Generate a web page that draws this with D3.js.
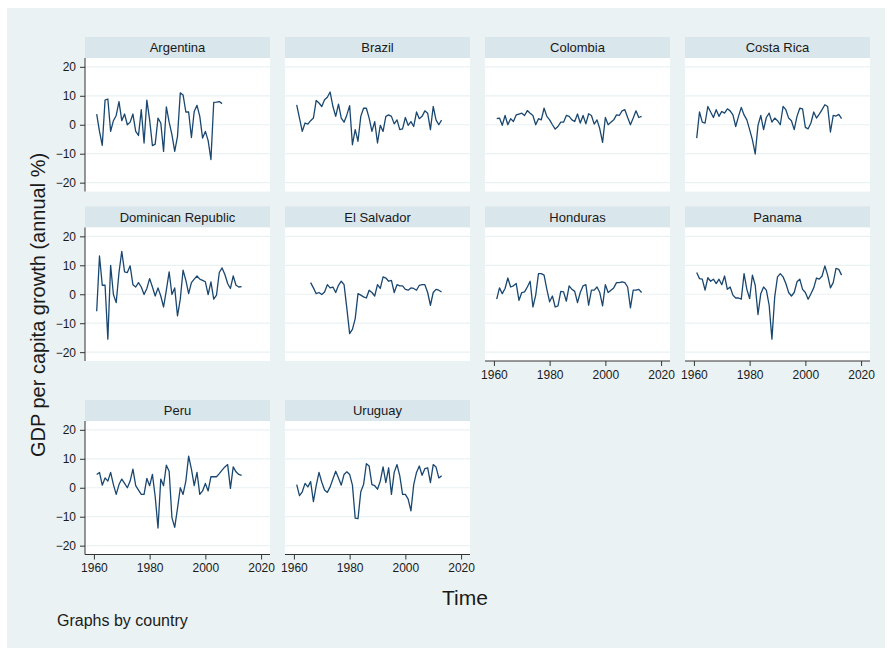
<!DOCTYPE html>
<html>
<head>
<meta charset="utf-8">
<script src="https://cdn.jsdelivr.net/npm/d3@7"></script>
<style>
  body { margin: 0; background: #fff; }
  text { font-family: "Liberation Sans", Arial, sans-serif; }
</style>
</head>
<body>
<div id="chart"></div>
<script>
// GDP per capita growth (annual %)
var countries = ["Argentina", "Brazil", "Colombia", "Costa Rica", "Dominican Republic",
  "El Salvador", "Honduras", "Panama", "Peru", "Uruguay"];
var firstYears = [1961, 1961, 1961, 1961, 1961, 1966, 1961, 1961, 1961, 1961];

var argentina = [3.7, -2.3, -7.1, 8.5, 8.9, -2.3, 1.4, 3.2, 8.0, 1.4, 3.7, 0.0, 0.9, 3.7, -2.3, -3.7,
  5.2, -6.3, 8.5, 1.7, -7.2, -6.7, 2.3, 0.6, -9.2, 6.2, 0.9, -3.4, -9.2, -4.0, 11.0, 10.3, 4.4, 4.4,
  -4.4, 4.6, 6.7, 2.9, -4.6, -2.3, -5.5, -12.0, 7.7, 7.8, 8.0, 7.3];
var brazil = [6.9, 2.3, -2.3, 0.6, 0.2, 1.4, 2.3, 8.4, 7.5, 6.3, 8.6, 9.5, 11.3, 6.3, 2.9, 7.1, 2.3,
  0.9, 3.4, 6.6, -6.9, -1.7, -5.7, 2.9, 5.7, 5.7, 2.3, -2.3, 1.1, -6.3, -0.2, -2.3, 2.9, 3.4, 2.9, 0.3,
  1.7, -1.7, -1.4, 2.5, -0.2, 1.1, -0.6, 4.4, 2.1, 2.9, 4.8, 4.0, -1.7, 6.3, 1.7, 0.0, 1.6];
var colombia = [2.1, 2.3, -0.2, 3.2, 0.0, 2.1, 1.1, 3.4, 3.7, 4.0, 3.2, 4.9, 4.0, 3.2, 0.0, 2.1, 1.7,
  5.7, 2.9, 1.7, 0.0, -1.5, -0.6, 0.9, 0.9, 3.2, 2.9, 1.7, 1.1, 3.7, 0.6, 3.2, 0.3, 3.8, 3.2, 0.2, 1.7,
  -1.4, -6.1, 2.5, 0.0, 0.9, 1.7, 3.4, 3.2, 4.8, 5.2, 2.5, 0.0, 2.3, 4.8, 2.5, 2.9];
var costaRica = [-4.6, 4.4, 0.9, 0.6, 6.3, 4.4, 2.5, 5.2, 2.9, 4.6, 4.0, 5.5, 4.8, 3.4, -0.6, 2.9,
  6.0, 3.4, 1.7, -1.7, -5.2, -10.1, -0.2, 3.2, -1.7, 2.5, 4.0, 0.9, 2.3, 1.4, 0.0, 6.3, 5.2, 2.3, 1.4,
  -1.7, 2.9, 5.7, 5.5, -0.9, -1.4, 0.6, 4.4, 2.3, 3.7, 5.2, 6.9, 6.3, -2.5, 3.2, 3.0, 3.6, 2.1];
var dominican = [-5.9, 13.2, 3.1, 3.1, -15.5, 10.0, -0.1, -2.9, 7.5, 14.8, 7.7, 7.5, 9.8, 3.3, 2.5,
  4.0, 2.5, -0.1, 2.0, 5.4, 2.5, -0.6, 2.2, -0.6, -4.4, 1.4, 7.7, -0.1, 2.2, -7.5, -1.7, 8.3, 4.8, 0.2,
  4.0, 5.2, 6.3, 5.2, 4.8, 4.3, -0.1, 4.3, -1.7, -0.3, 7.5, 9.1, 6.8, 3.7, 2.0, 6.3, 3.1, 2.5, 2.6];
var elSalvador = [4.0, 2.2, 0.2, 0.6, -0.1, 0.8, 3.3, 2.2, 2.5, 0.6, 3.1, 4.5, 3.3, -4.9, -13.6,
  -12.1, -8.4, 0.2, -0.3, -0.9, -1.3, 1.4, 0.6, -0.6, 3.3, 2.0, 6.0, 5.6, 4.5, 4.8, 0.6, 3.3, 2.9, 2.9,
  1.7, 1.4, 2.2, 2.0, 1.4, 3.1, 3.3, 3.3, 0.6, -3.8, 0.6, 1.7, 1.4, 0.8];
var honduras = [-1.7, 2.2, 0.2, 2.0, 5.6, 2.5, 2.9, 3.7, -2.1, 0.6, 0.8, 2.5, 4.5, -4.4, -0.3, 7.1,
  7.1, 6.6, 1.7, -2.6, -0.6, -4.4, -4.0, 1.0, 0.8, -2.4, 2.9, 1.7, 1.0, -2.9, 0.6, 2.9, 3.3, -3.8, 1.4,
  1.4, 2.5, 0.6, -4.0, 3.3, 0.6, 1.4, 2.2, 4.0, 4.0, 4.3, 4.0, 2.5, -4.7, 1.4, 1.4, 1.7, 0.6];
var panama = [7.5, 5.4, 5.2, 1.4, 5.7, 4.5, 5.2, 3.7, 5.2, 3.3, 6.3, 1.7, 2.5, -0.3, -1.3, -1.3,
  -1.7, 7.1, 1.7, -1.5, 6.6, 3.1, -7.0, 0.2, 2.5, 1.4, -3.8, -15.5, -0.9, 6.0, 7.1, 6.0, 3.7, 0.6, -0.6,
  0.6, 4.3, 5.2, 1.7, 0.6, -1.7, 0.2, 2.2, 5.6, 5.2, 6.3, 9.8, 6.6, 2.2, 4.0, 8.9, 8.6, 6.6];
var peru = [4.6, 5.3, 0.9, 3.4, 2.3, 5.3, 1.1, -2.3, 1.1, 3.0, 1.5, 0.0, 2.3, 6.4, 0.7, -0.8, -2.3,
  -2.3, 3.2, 0.7, 4.6, -3.1, -13.9, 3.0, 0.7, 7.8, 5.7, -10.3, -13.7, -7.1, 0.0, -2.3, 2.3, 10.9, 6.4,
  0.7, 5.3, -2.3, -1.1, 1.5, -1.1, 3.8, 3.8, 3.8, 4.9, 6.1, 7.2, 8.0, -0.2, 7.2, 5.5, 4.6, 4.3];
var uruguay = [1.1, -2.7, -1.4, 1.5, 0.3, 2.1, -4.8, 0.7, 5.3, 1.9, -0.8, -1.6, 0.3, 3.0, 5.7, 3.4,
  0.9, 4.6, 5.5, 4.6, 0.9, -10.5, -10.7, -1.4, 1.1, 8.3, 7.5, 1.1, 0.7, -0.5, 2.3, 7.2, 1.8, 6.9, -2.3,
  5.3, 8.0, 4.1, -2.3, -2.3, -3.9, -8.0, 1.1, 5.3, 7.5, 4.3, 6.6, 6.9, 1.8, 8.0, 7.2, 3.4, 4.1];

var series = [argentina, brazil, colombia, costaRica, dominican, elSalvador, honduras, panama, peru, uruguay];
var yTicks = [-20, -10, 0, 10, 20];
var xTicks = [1960, 1980, 2000, 2020];

var svgWidth = 889;
var svgHeight = 652;
var ncol = 4;

var colX = [85, 285, 485, 685];
var rowTop = [37, 206.5, 400];
var panelW = 185;
var headerH = 21;
var plotH = 133.5;

var svg = d3.select("#chart")
  .append("svg")
  .attr("width", svgWidth)
  .attr("height", svgHeight);

// outer background
svg.append("rect")
  .attr("x", 7).attr("y", 8)
  .attr("width", 878).attr("height", 640)
  .attr("fill", "#eaf2f3");

var xScale = d3.scaleLinear().domain([1956.8, 2023.2]).range([0, panelW]);
var yScale = d3.scaleLinear().domain([-23.05, 23.05]).range([plotH, 0]);

var line = d3.line()
  .x(d => xScale(d.year))
  .y(d => yScale(d.value));

countries.forEach(function (name, i) {
  var col = i % ncol;
  var row = Math.floor(i / ncol);
  var g = svg.append("g")
    .attr("transform", `translate(${colX[col]}, ${rowTop[row]})`);

  // strip header
  g.append("rect")
    .attr("width", panelW).attr("height", headerH)
    .attr("fill", "#d9e6eb");
  g.append("text")
    .attr("x", panelW / 2).attr("y", headerH / 2 + 4.5)
    .attr("text-anchor", "middle")
    .style("font-size", "13px")
    .style("fill", "#1a1a1a")
    .text(name);

  var plot = g.append("g").attr("transform", `translate(0, ${headerH})`);

  plot.append("rect")
    .attr("width", panelW).attr("height", plotH)
    .attr("fill", "#ffffff");

  // gridlines
  plot.selectAll(".grid")
    .data(yTicks)
    .enter()
    .append("line")
    .attr("x1", 0).attr("x2", panelW)
    .attr("y1", d => yScale(d)).attr("y2", d => yScale(d))
    .attr("stroke", "#eaf2f3")
    .attr("stroke-width", 1.2);

  var pts = series[i].map((v, k) => ({ year: firstYears[i] + k, value: v }));
  plot.append("path")
    .datum(pts)
    .attr("d", line)
    .attr("fill", "none")
    .attr("stroke", "#1a476f")
    .attr("stroke-width", 1.3)
    .attr("stroke-linejoin", "round");

  // y axis on the first column
  if (col == 0) {
    var yaxis = d3.axisLeft(yScale).tickValues(yTicks).tickSize(5).tickPadding(4);
    var ya = plot.append("g").call(yaxis);
    ya.select(".domain").attr("d", `M0,0V${plotH}`);
    ya.selectAll("line, path").attr("stroke", "#333");
    ya.selectAll("text")
      .style("font-size", "12px")
      .style("font-family", "'Liberation Sans', Arial, sans-serif")
      .attr("fill", "#1a1a1a");
  }

  // x axis where no panel sits below
  if (i + ncol >= countries.length) {
    var xaxis = d3.axisBottom(xScale).tickValues(xTicks).tickFormat(d3.format("d")).tickSize(5).tickPadding(4);
    var xa = plot.append("g")
      .attr("transform", `translate(0, ${plotH})`)
      .call(xaxis);
    xa.select(".domain").attr("d", `M0,0H${panelW}`);
    xa.selectAll("line, path").attr("stroke", "#333");
    xa.selectAll("text")
      .style("font-size", "12px")
      .style("font-family", "'Liberation Sans', Arial, sans-serif")
      .attr("fill", "#1a1a1a");
  }
});

// axis titles
svg.append("text")
  .attr("transform", "translate(45, 305) rotate(-90)")
  .attr("text-anchor", "middle")
  .style("font-size", "20px")
  .style("fill", "#1a1a1a")
  .text("GDP per capita growth (annual %)");

svg.append("text")
  .attr("x", 465).attr("y", 605)
  .attr("text-anchor", "middle")
  .style("font-size", "21px")
  .style("fill", "#1a1a1a")
  .text("Time");

svg.append("text")
  .attr("x", 57).attr("y", 626)
  .style("font-size", "16px")
  .style("fill", "#1a1a1a")
  .text("Graphs by country");
</script>
</body>
</html>
